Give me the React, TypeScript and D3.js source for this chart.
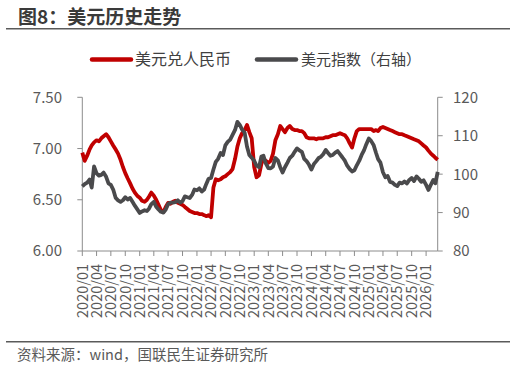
import React from "react";
import * as d3 from "d3";

const TITLE = "图8：美元历史走势";
const SOURCE = "资料来源：wind，国联民生证券研究所";
const SERIES_NAMES = ["美元兑人民币", "美元指数（右轴）"];

// semi-monthly observations (1st and 16th of each month), 2020/01/01 .. 2026/03/16
const START_YEAR = 2020;
const USDCNY = [
  6.96, 6.88, 6.93, 6.99, 7.03, 7.06, 7.08, 7.07, 7.10, 7.12,
  7.14, 7.11, 7.07, 7.03, 6.99, 6.95, 6.89, 6.82, 6.76, 6.71,
  6.66, 6.61, 6.57, 6.54, 6.52, 6.49, 6.48, 6.50, 6.53, 6.57,
  6.54, 6.50, 6.45, 6.40, 6.38, 6.43, 6.47, 6.46, 6.48, 6.49,
  6.47, 6.46, 6.45, 6.43, 6.41, 6.39, 6.38, 6.37, 6.37, 6.36,
  6.36, 6.35, 6.34, 6.35, 6.33, 6.62, 6.70, 6.69, 6.70, 6.72,
  6.73, 6.75, 6.77, 6.80, 6.90, 7.02, 7.10, 7.15, 7.18, 7.23,
  7.16, 7.10, 6.82, 6.72, 6.74, 6.85, 6.90, 6.88, 6.86, 6.88,
  6.95, 7.08, 7.14, 7.22, 7.19, 7.16, 7.20, 7.22, 7.19, 7.18,
  7.18, 7.17, 7.17, 7.15, 7.11, 7.10, 7.10, 7.10, 7.09, 7.10,
  7.10, 7.10, 7.11, 7.11, 7.12, 7.13, 7.13, 7.14, 7.15, 7.14,
  7.13, 7.10, 7.05, 7.01, 7.10, 7.17, 7.19, 7.19, 7.19, 7.19,
  7.19, 7.19, 7.17, 7.18, 7.17, 7.20, 7.21, 7.20, 7.19, 7.18,
  7.17, 7.16, 7.15, 7.14, 7.14, 7.13, 7.12, 7.11, 7.10, 7.09,
  7.08, 7.07, 7.05, 7.03, 7.01, 6.98, 6.95, 6.93, 6.91, 6.89,
];
const DXY = [
  96.8, 97.4, 97.8, 98.6, 96.5, 102.0, 100.2, 99.6, 99.8, 100.4,
  99.3, 97.6, 97.2, 96.0, 93.8, 93.2, 92.8, 93.2, 94.0, 93.4,
  93.8, 92.8, 91.8, 90.9, 89.9, 90.3, 90.6, 90.4, 91.0, 92.2,
  92.8, 91.5, 90.8, 90.2, 90.0, 90.8, 92.2, 92.6, 92.6, 92.7,
  93.2, 92.6, 93.0, 94.2, 94.0, 93.8, 94.6, 96.0, 95.8, 96.3,
  95.5, 96.0, 97.4, 98.8, 99.0, 101.2, 103.2, 104.0, 105.5, 105.0,
  107.5, 108.4, 109.0, 110.2, 111.5, 113.6, 112.8, 111.6, 110.8, 107.2,
  105.0, 104.3, 103.5, 102.2, 101.8, 104.6, 104.8, 102.8, 101.6, 101.5,
  102.0, 104.2, 103.6, 101.8, 100.4, 101.8, 103.0, 104.2, 104.8, 105.8,
  106.7, 106.2, 105.8, 104.0, 103.4, 102.5, 101.2, 102.6, 103.4, 104.2,
  104.5, 105.2, 106.3, 105.5, 104.8, 105.0, 105.6, 106.0, 105.2, 104.4,
  103.5, 102.2, 101.3, 100.7, 101.0, 102.3, 103.5, 105.0, 106.2, 107.8,
  109.3, 108.6, 107.5, 105.5, 103.9, 103.0, 100.5, 99.2, 99.5, 98.0,
  97.8, 97.2, 96.9, 97.8, 97.6, 98.1, 97.6, 98.5, 99.0, 98.2,
  99.4, 98.8, 98.0, 98.4, 97.2, 95.9, 97.3, 98.5, 97.6, 100.6,
];

const X_TICK_LABELS = [
  "2020/01", "2020/04", "2020/07", "2020/10",
  "2021/01", "2021/04", "2021/07", "2021/10",
  "2022/01", "2022/04", "2022/07", "2022/10",
  "2023/01", "2023/04", "2023/07", "2023/10",
  "2024/01", "2024/04", "2024/07", "2024/10",
  "2025/01", "2025/04", "2025/07", "2025/10",
  "2026/01",
];
const LEFT_TICKS = [6.0, 6.5, 7.0, 7.5];
const RIGHT_TICKS = [80, 90, 100, 110, 120];

const RED = "#C00000";
const GREY = "#4A4A4C";
const TXT = "#595959";
const AXIS = "#8C8C8C";
const FONT = "'Noto Sans CJK SC', 'Noto Sans', sans-serif";

const dates = USDCNY.map((_, i) => new Date(START_YEAR + Math.floor(i / 24), Math.floor(i / 2) % 12, i % 2 ? 16 : 1));
const parseTick = d3.timeParse("%Y/%m");

export default function App() {
  const left = 82.3, right = 437.7, top = 97.3, bottom = 251;
  const x = d3.scaleTime().domain([dates[0], dates[dates.length - 1]]).range([left, right]);
  const yL = d3.scaleLinear().domain([6, 7.5]).range([bottom, top]);
  const yR = d3.scaleLinear().domain([80, 120]).range([bottom, top]);

  const redLine = d3.line<number>().x((_, i) => x(dates[i])).y((d) => yL(d));
  const greyLine = d3.line<number>().x((_, i) => x(dates[i])).y((d) => yR(d));

  return (
    <svg width={516} height={370} style={{ position: "absolute", left: 0, top: 0, background: "#fff" }} fontFamily={FONT}>
      <text x={18} y={24} fontSize={19} fontWeight="bold" fill="#3A3A3A">{TITLE}</text>
      <line x1={6} x2={510} y1={28.8} y2={28.8} stroke="#5A5A5A" strokeWidth={1.6} />

      {/* legend */}
      <line x1={92} x2={131} y1={59.5} y2={59.5} stroke={RED} strokeWidth={4.5} strokeLinecap="round" />
      <text x={135} y={59.5} dy="0.36em" fontSize={16} fill="#404040">{SERIES_NAMES[0]}</text>
      <line x1={257} x2={296} y1={59.5} y2={59.5} stroke={GREY} strokeWidth={4.5} strokeLinecap="round" />
      <text x={301} y={59.5} dy="0.36em" fontSize={15} fill="#404040">{SERIES_NAMES[1]}</text>

      {/* axes */}
      <line x1={left} x2={left} y1={top} y2={bottom} stroke={AXIS} strokeWidth={1} />
      <line x1={right} x2={right} y1={top} y2={bottom} stroke={AXIS} strokeWidth={1} />
      <line x1={left} x2={right} y1={bottom} y2={bottom} stroke={AXIS} strokeWidth={1} />
      {LEFT_TICKS.map((t) => (
        <g key={"l" + t}>
          <line x1={left - 5} x2={left} y1={yL(t)} y2={yL(t)} stroke={AXIS} />
          <text x={62} y={yL(t)} dy="0.36em" textAnchor="end" fontSize={15} fill={TXT}>{t.toFixed(2)}</text>
        </g>
      ))}
      {RIGHT_TICKS.map((t) => (
        <g key={"r" + t}>
          <line x1={right} x2={right + 5} y1={yR(t)} y2={yR(t)} stroke={AXIS} />
          <text x={453} y={yR(t)} dy="0.36em" textAnchor="start" fontSize={15} fill={TXT}>{t}</text>
        </g>
      ))}
      {X_TICK_LABELS.map((lab) => {
        const xv = x(parseTick(lab) as Date);
        return (
          <g key={lab}>
            <line x1={xv} x2={xv} y1={bottom} y2={bottom + 5} stroke={AXIS} />
            <text transform={`translate(${xv},${264}) rotate(-90)`} dy="0.36em" textAnchor="end" fontSize={14.5} fill={TXT}>{lab}</text>
          </g>
        );
      })}

      {/* series */}
      <path d={redLine(USDCNY) || ""} fill="none" stroke={RED} strokeWidth={3.8} strokeLinejoin="round" />
      <path d={greyLine(DXY) || ""} fill="none" stroke={GREY} strokeWidth={3.8} strokeLinejoin="round" />

      <line x1={6} x2={510} y1={341.8} y2={341.8} stroke="#5A5A5A" strokeWidth={1.6} />
      <text x={17} y={355} dy="0.36em" fontSize={14.5} fill={TXT}>{SOURCE}</text>
    </svg>
  );
}
